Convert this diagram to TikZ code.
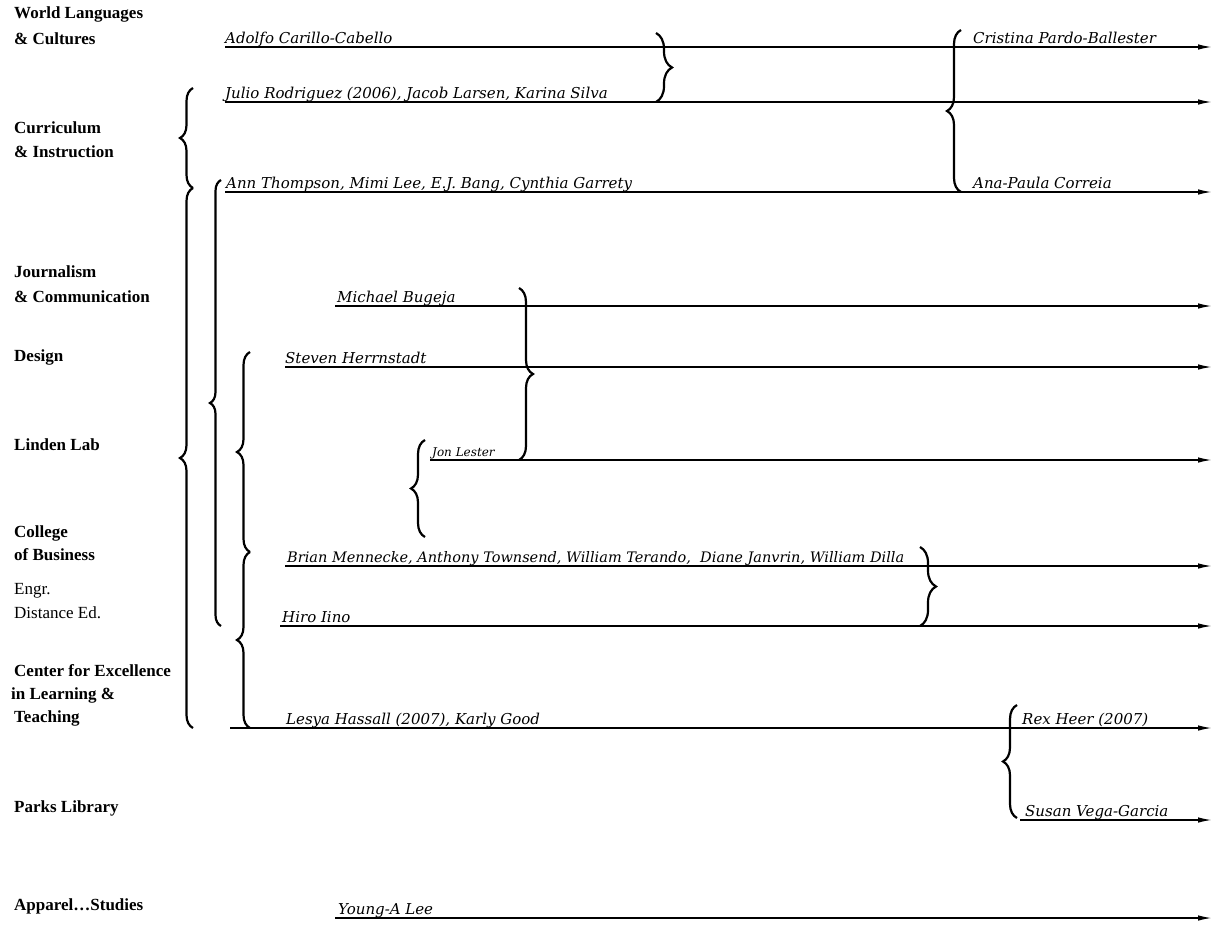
\documentclass[tikz,border=0pt]{standalone}
\usepackage{fontspec}
\setmainfont{Liberation Serif}
\newfontfamily\namefont{DejaVu Serif}
\usetikzlibrary{decorations.pathreplacing,arrows.meta}
\tikzset{
  dept/.style={anchor=base west, inner sep=0pt, font=\fontsize{17}{24}\selectfont\bfseries, align=left},
  deptreg/.style={anchor=base west, inner sep=0pt, font=\fontsize{17}{24}\selectfont, align=left},
  person/.style={anchor=base west, inner sep=0pt, font=\namefont\itshape\fontsize{15}{17}\selectfont},
  small person/.style={anchor=base west, inner sep=0pt, font=\namefont\itshape\fontsize{12}{13}\selectfont},
  track/.style={line width=1.5pt, -{Latex[length=14pt,width=5.5pt]}},
  lbrace/.style={decorate, line width=2.2pt, decoration={brace, amplitude=#1}},
}
\begin{document}
\begin{tikzpicture}[x=1pt,y=-1pt]
\useasboundingbox (0,0) rectangle (1228,926);
% department labels
\node[dept] (d1) at (14,18) {World Languages};
\node[dept] (d1b) at (14,44) {\& Cultures};
\node[dept] (d2) at (14,133) {Curriculum};
\node[dept] (d2b) at (14,157) {\& Instruction};
\node[dept] (d3) at (14,277) {Journalism};
\node[dept] (d3b) at (14,302) {\& Communication};
\node[dept] (d4) at (14,361) {Design};
\node[dept] (d5) at (14,450) {Linden Lab};
\node[dept] (d6) at (14,537) {College};
\node[dept] (d6b) at (14,560) {of Business};
\node[deptreg] (d7) at (14,594) {Engr.};
\node[deptreg] (d7b) at (14,618) {Distance Ed.};
\node[dept] (d8) at (14,676) {Center for Excellence};
\node[dept] (d8b) at (11,699) {in Learning \&};
\node[dept] (d8c) at (14,722) {Teaching};
\node[dept] (d9) at (14,812) {Parks Library};
\node[dept] (d10) at (14,910) {Apparel\ldots Studies};

% track start/end coordinates
\coordinate (s1) at (225,47);   \coordinate (e1) at (1212,47);
\coordinate (s2) at (225,102);  \coordinate (e2) at (1212,102);
\coordinate (s3) at (225,192);  \coordinate (e3) at (1212,192);
\coordinate (s4) at (335,306);  \coordinate (e4) at (1212,306);
\coordinate (s5) at (285,367);  \coordinate (e5) at (1212,367);
\coordinate (s6) at (430,460);  \coordinate (e6) at (1212,460);
\coordinate (s7) at (285,566);  \coordinate (e7) at (1212,566);
\coordinate (s8) at (280,626);  \coordinate (e8) at (1212,626);
\coordinate (s9) at (230,728);  \coordinate (e9) at (1212,728);
\coordinate (s10) at (1020,820); \coordinate (e10) at (1212,820);
\coordinate (s11) at (335,918); \coordinate (e11) at (1212,918);

\foreach \i in {1,...,11} {\draw[track] (s\i) -- (e\i);}

% names
\node[person] (p1) at (225,43) {Adolfo Carillo-Cabello};
\node[person] (p2) at (225,98) {Julio Rodriguez (2006), Jacob Larsen, Karina Silva};
\node[person] (p3) at (226,188) {Ann Thompson, Mimi Lee, E.J. Bang, Cynthia Garrety};
\node[person] (p4) at (337,302) {Michael Bugeja};
\node[person] (p5) at (285,363) {Steven Herrnstadt};
\node[small person] (p6) at (432,456) {Jon Lester};
\node[person, font=\namefont\itshape\fontsize{14.5}{17}\selectfont] (p7) at (287,562) {Brian Mennecke, Anthony Townsend, William Terando,\ \ Diane Janvrin, William Dilla};
\node[person] (p8) at (282,622) {Hiro Iino};
\node[person] (p9) at (286,724) {Lesya Hassall (2007), Karly Good};
\node[person] (p10) at (338,914) {Young-A Lee};
\node[person] (p11) at (973,43) {Cristina Pardo-Ballester};
\node[person] (p12) at (973,188) {Ana-Paula Correia};
\node[person] (p13) at (1022,724) {Rex Heer (2007)};
\node[person] (p14) at (1025,816) {Susan Vega-Garcia};

% braces
\draw[lbrace=16pt] (656,33) -- (656,102);
\draw[lbrace=14pt] (961,192) -- (961,30);
\draw[lbrace=13pt] (193,188) -- (193,88);
\draw[lbrace=13pt] (193,728) -- (193,188);
\draw[lbrace=11pt] (221,626) -- (221,180);
\draw[lbrace=13pt] (250,552) -- (250,352);
\draw[lbrace=13pt] (250,728) -- (250,552);
\draw[lbrace=14pt] (519,288) -- (519,460);
\draw[lbrace=14pt] (425,537) -- (425,440);
\draw[lbrace=16pt] (920,547) -- (920,626);
\draw[lbrace=14pt] (1017,818) -- (1017,705);
\end{tikzpicture}
\end{document}
